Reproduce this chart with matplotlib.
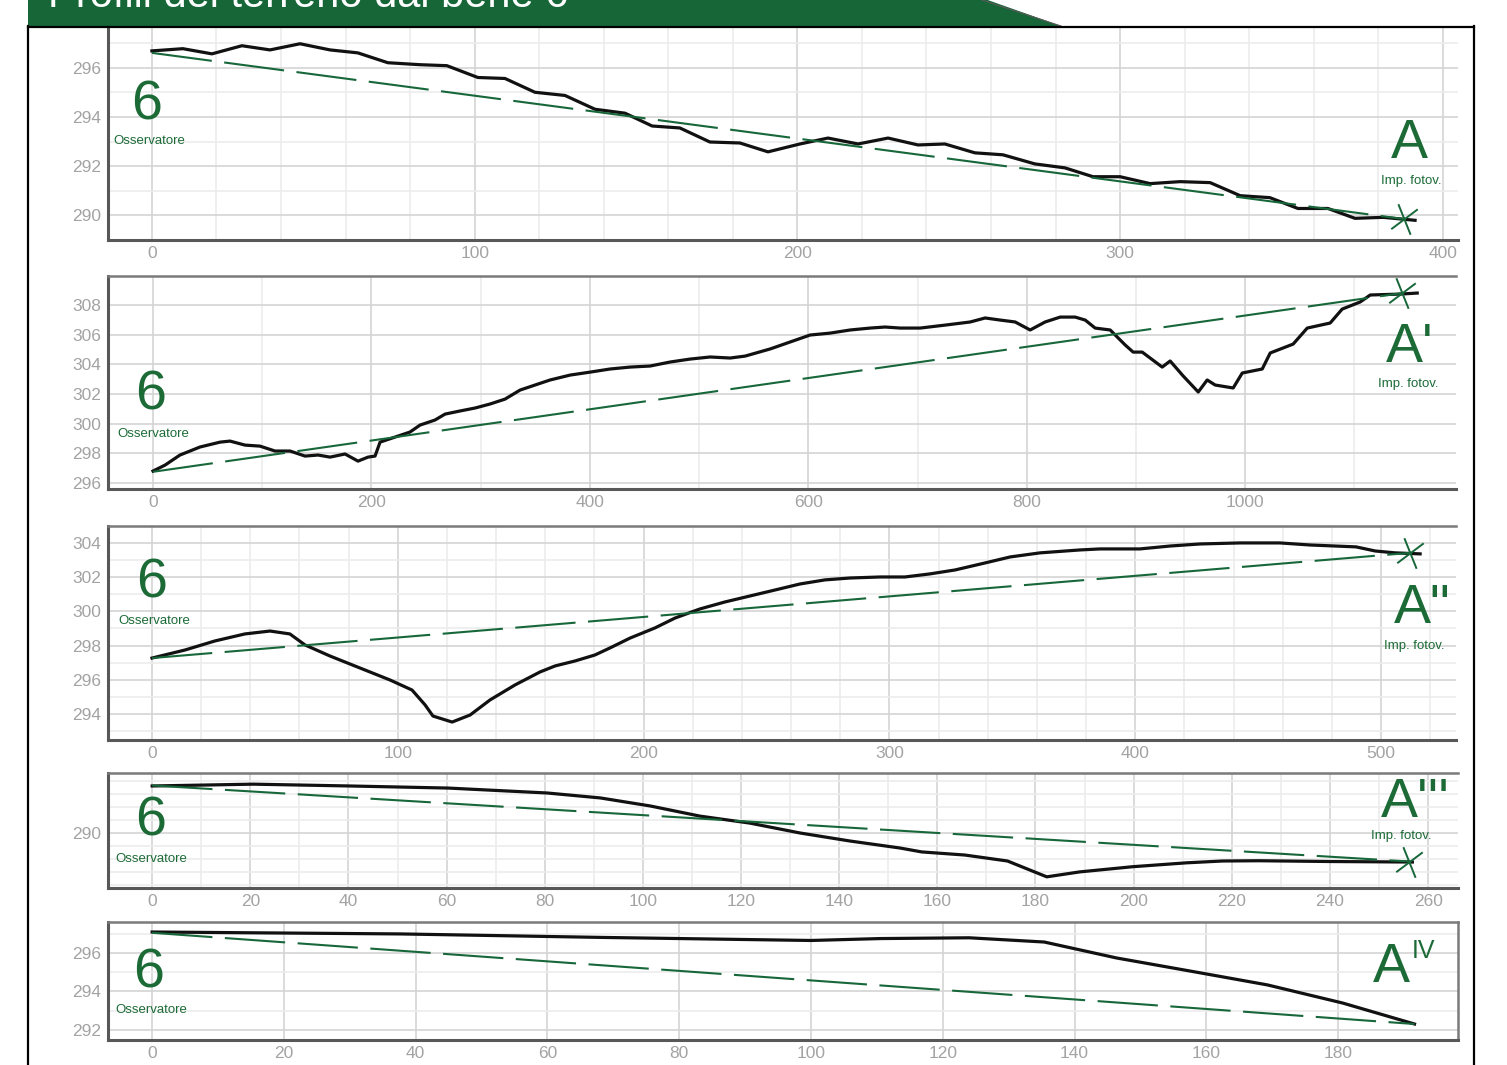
import matplotlib
matplotlib.use("Agg")
import matplotlib.pyplot as plt
from matplotlib.path import Path
from matplotlib.patches import Polygon
from matplotlib.lines import Line2D
import numpy as np

plt.rcParams['font.family'] = ['Liberation Sans', 'DejaVu Sans']

W, H = 1507, 1065
GREEN = '#17673a'
TEXT_GREEN = '#1c6b37'

TITLE = "Profili del terreno dal bene 6"

# profilo verso A
dist_a = [0, 9.6, 18.6, 27.9, 36.6, 45.9, 55.2, 63.8, 73.1, 83.0, 91.4, 101.0, 109.4,
          118.7, 128.0, 137.3, 146.6, 155.0, 163.6, 172.9, 182.2, 190.9, 200.8, 209.5,
          218.8, 228.1, 237.4, 245.7, 255.0, 263.7, 273.6, 282.9, 291.6, 300.0, 309.3,
          318.6, 327.9, 337.2, 346.4, 355.1, 364.4, 372.8, 381.5, 391.4]
elev_a = [296.68, 296.77, 296.56, 296.89, 296.72, 296.97, 296.72, 296.60, 296.20, 296.12,
          296.08, 295.60, 295.56, 295.00, 294.87, 294.31, 294.15, 293.63, 293.55, 292.98,
          292.94, 292.58, 292.90, 293.14, 292.90, 293.14, 292.86, 292.90, 292.54, 292.46,
          292.09, 291.93, 291.57, 291.57, 291.29, 291.37, 291.33, 290.80, 290.72, 290.28,
          290.28, 289.88, 289.92, 289.80]
obs_a = 296.6
target_a = (388.0, 289.85)

# profilo verso A'
dist_a1 = [0, 11, 24.7, 43.0, 61.4, 70.5, 84.2, 98.0, 111.7, 125.5, 139.2, 151.1, 162.1,
           175.8, 187.7, 196.9, 203.3, 207.9, 221.6, 235.3, 244.5, 258.2, 267.4, 281.1,
           294.9, 308.6, 322.3, 336.1, 349.8, 363.6, 381.9, 400.2, 418.5, 436.8, 455.1,
           473.4, 491.8, 510.1, 528.4, 542.1, 565.0, 583.3, 601.6, 620.0, 638.3, 656.6,
           670.3, 684.1, 702.4, 725.3, 748.2, 761.9, 775.6, 789.4, 803.1, 816.8, 830.6,
           844.3, 853.5, 862.6, 876.4, 890.1, 897.4, 905.7, 924.0, 931.3, 943.2, 957.0,
           965.2, 972.5, 989.0, 997.3, 1015.6, 1022.9, 1043.9, 1056.8, 1077.8, 1088.8,
           1105.3, 1114.5, 1141.9, 1157.5]
elev_a1 = [296.81, 297.21, 297.89, 298.43, 298.76, 298.83, 298.56, 298.49, 298.16, 298.16,
           297.82, 297.89, 297.75, 297.96, 297.48, 297.75, 297.82, 298.76, 299.10, 299.44,
           299.91, 300.25, 300.65, 300.86, 301.06, 301.33, 301.66, 302.27, 302.61, 302.95,
           303.28, 303.48, 303.69, 303.82, 303.89, 304.16, 304.36, 304.50, 304.43, 304.56,
           305.04, 305.51, 305.98, 306.11, 306.32, 306.45, 306.52, 306.45, 306.45, 306.65,
           306.86, 307.13, 306.99, 306.86, 306.32, 306.86, 307.19, 307.19, 306.99, 306.45,
           306.32, 305.31, 304.83, 304.83, 303.82, 304.23, 303.22, 302.14, 302.95, 302.61,
           302.41, 303.42, 303.69, 304.77, 305.37, 306.45, 306.79, 307.73, 308.21, 308.68,
           308.74, 308.81]
obs_a1 = 296.76
target_a1 = (1143.8, 308.81)

# profilo verso A''
dist_a2 = [0, 13.4, 25.6, 37.8, 48.0, 56.1, 62.2, 72.4, 84.6, 96.8, 105.8, 111.1, 114.3,
           122.1, 129.4, 137.5, 147.7, 157.9, 164.0, 172.1, 180.2, 186.3, 194.5, 204.6,
           212.8, 222.9, 233.1, 243.3, 253.5, 263.6, 273.8, 284.0, 296.2, 306.3, 316.5,
           326.7, 338.9, 349.1, 361.3, 377.5, 385.7, 401.9, 414.2, 426.4, 442.6, 458.9,
           471.1, 489.8, 497.6, 505.7, 515.9]
elev_a2 = [297.27, 297.74, 298.27, 298.68, 298.85, 298.68, 298.04, 297.39, 296.69, 295.99,
           295.40, 294.53, 293.88, 293.53, 293.94, 294.82, 295.70, 296.46, 296.81, 297.10,
           297.45, 297.86, 298.44, 299.03, 299.61, 300.14, 300.55, 300.90, 301.25, 301.60,
           301.84, 301.95, 302.01, 302.01, 302.19, 302.42, 302.83, 303.18, 303.42, 303.59,
           303.65, 303.65, 303.82, 303.94, 304.00, 304.00, 303.88, 303.77, 303.53, 303.42,
           303.36]
obs_a2 = 297.27
target_a2 = (511.8, 303.42)

# profilo verso A'''
dist_a3 = [0, 20.6, 40.3, 60.3, 80.5, 91.3, 101.5, 111.6, 121.8, 132.0, 142.2, 152.4,
           156.8, 165.6, 174.3, 182.3, 189.0, 199.8, 210.8, 218.1, 225.5, 240.1, 256.8]
elev_a3 = [291.81, 291.88, 291.81, 291.73, 291.54, 291.35, 291.04, 290.65, 290.38, 290.00,
           289.69, 289.42, 289.27, 289.15, 288.92, 288.31, 288.50, 288.70, 288.85, 288.92,
           288.93, 288.90, 288.88]
obs_a3 = 291.83
target_a3 = (256.2, 288.90)

# profilo verso A IV
dist_a4 = [0, 37.7, 68.1, 100.0, 110.6, 124.0, 135.4, 146.4, 158.4, 169.3, 180.7, 191.6]
elev_a4 = [297.09, 296.99, 296.81, 296.65, 296.75, 296.79, 296.57, 295.74, 295.01, 294.34,
           293.40, 292.31]
obs_a4 = 297.05
target_a4 = (191.6, 292.31)

# target cross drawn as a tilted asterisk
TARGET_MARK = Path([(-6, 15), (6, -15), (-13, -9.5), (13, 10)],
                   [Path.MOVETO, Path.LINETO, Path.MOVETO, Path.LINETO])

fig = plt.figure(figsize=(W / 100, H / 100), dpi=100)


def fx(px):
  return px / W


def fy(py):
  return 1 - py / H


def make_axes(left, top, right, bottom):
  return fig.add_axes([fx(left), fy(bottom), fx(right) - fx(left), (bottom - top) / H])


def draw_profile(ax, dist, elev, obs_h, target, xlim, ylim, xticks, xminor,
                 yticks, yminor, show_top=True, show_right=False, mark_target=True):
  ax.set_xlim(xlim)
  ax.set_ylim(ylim)
  ax.set_xticks(xticks)
  ax.set_xticks(xminor, minor=True)
  ax.set_yticks(yticks)
  ax.set_yticks(yminor, minor=True)
  ax.grid(which='minor', color='#ececec', linewidth=1.2)
  ax.grid(which='major', color='#d4d4d4', linewidth=1.2)
  ax.set_axisbelow(True)
  ax.tick_params(which='both', length=0, labelsize=12.5, labelcolor='#a3a3a3')
  ax.tick_params(axis='y', pad=5)
  ax.tick_params(axis='x', pad=4)

  for side in ['left', 'bottom']:
    ax.spines[side].set_color('#585858')
    ax.spines[side].set_linewidth(2.2)
  ax.spines['top'].set_visible(show_top)
  ax.spines['top'].set_color('#7a7a7a')
  ax.spines['top'].set_linewidth(1.8)
  ax.spines['right'].set_visible(show_right)
  ax.spines['right'].set_color('#7a7a7a')
  ax.spines['right'].set_linewidth(1.8)

  ax.plot(dist, elev, color='#111111', linewidth=2.3, solid_joinstyle='round')
  # line of sight from observer to target
  ax.plot([0, target[0]], [obs_h, target[1]], color=GREEN, linewidth=1.5,
          linestyle=(0, (29, 6)))
  if mark_target:
    ax.plot([target[0]], [target[1]], marker=TARGET_MARK, markersize=22,
            markeredgecolor=GREEN, markerfacecolor='none', markeredgewidth=1.4,
            linestyle='none')


def label(px, py, s, size, ha='center'):
  fig.text(fx(px), fy(py), s, ha=ha, va='baseline', color=TEXT_GREEN, fontsize=size)


# header banner and outer frame
fig.patches.append(Polygon([(fx(28), fy(-2)), (fx(982), fy(-2)), (fx(1061), fy(26)),
                            (fx(28), fy(26))], closed=True, transform=fig.transFigure,
                           facecolor='#176638', edgecolor='none'))
fig.lines.append(Line2D([fx(982), fx(1061)], [fy(0), fy(26)], transform=fig.transFigure,
                        color='#5a5a5a', linewidth=0.8))
fig.text(fx(48), fy(7), TITLE, color='white', fontsize=30, ha='left', va='baseline')
for xs, ys in [([28, 1474], [26.5, 26.5]), ([28, 28], [26, 1070]), ([1474, 1474], [26, 1070])]:
  fig.lines.append(Line2D([fx(v) for v in xs], [fy(v) for v in ys],
                          transform=fig.transFigure, color='black', linewidth=1.6))

ax1 = make_axes(108, 28, 1458, 240)
draw_profile(ax1, dist_a, elev_a, obs_a, target_a, (-13.6, 404.7), (289.07, 297.61),
             np.arange(0, 401, 100), np.arange(0, 401, 20),
             np.arange(290, 297, 2), np.arange(289, 298, 1), show_top=False)

ax2 = make_axes(108, 276, 1456, 489)
draw_profile(ax2, dist_a1, elev_a1, obs_a1, target_a1, (-41.2, 1193.0), (295.6, 309.96),
             np.arange(0, 1001, 200), np.arange(0, 1101, 100),
             np.arange(296, 309, 2), np.arange(296, 310, 2))

ax3 = make_axes(108, 526, 1456, 740)
draw_profile(ax3, dist_a2, elev_a2, obs_a2, target_a2, (-17.9, 530.5), (292.48, 304.99),
             np.arange(0, 501, 100), np.arange(0, 521, 20),
             np.arange(294, 305, 2), np.arange(293, 305, 1))

ax4 = make_axes(108, 773, 1458, 888)
draw_profile(ax4, dist_a3, elev_a3, obs_a3, target_a3, (-9.0, 266.1), (287.88, 292.31),
             np.arange(0, 261, 20), np.arange(0, 261, 10),
             [290], np.arange(288, 292.4, 0.5))

ax5 = make_axes(108, 922, 1458, 1040)
draw_profile(ax5, dist_a4, elev_a4, obs_a4, target_a4, (-6.7, 198.2), (291.48, 297.61),
             np.arange(0, 181, 20), np.arange(0, 181, 20),
             np.arange(292, 297, 2), np.arange(292, 298, 1),
             show_right=True, mark_target=False)

# observer / target labels
BIG = 40
SMALL = 9.5
for x6, b6, xo, bo in [(147, 119, 149, 144), (151, 410, 153, 437), (152, 598, 154, 624),
                       (151, 835, 151, 862), (149, 987, 151, 1013)]:
  label(x6, b6, "6", BIG)
  label(xo, bo, "Osservatore", SMALL)

label(1409, 158, "A", BIG)
label(1411, 184, "Imp. fotov.", SMALL)
label(1410, 362, "A'", BIG)
label(1408, 387, "Imp. fotov.", SMALL)
label(1422, 623, 'A"', BIG)
label(1414, 649, "Imp. fotov.", SMALL)
label(1415, 817, "A'''", BIG)
label(1401, 839, "Imp. fotov.", SMALL)
label(1391, 982, "A", BIG)
label(1412, 958, "IV", 18, ha='left')

plt.savefig("out.png", dpi=100)
plt.close()
